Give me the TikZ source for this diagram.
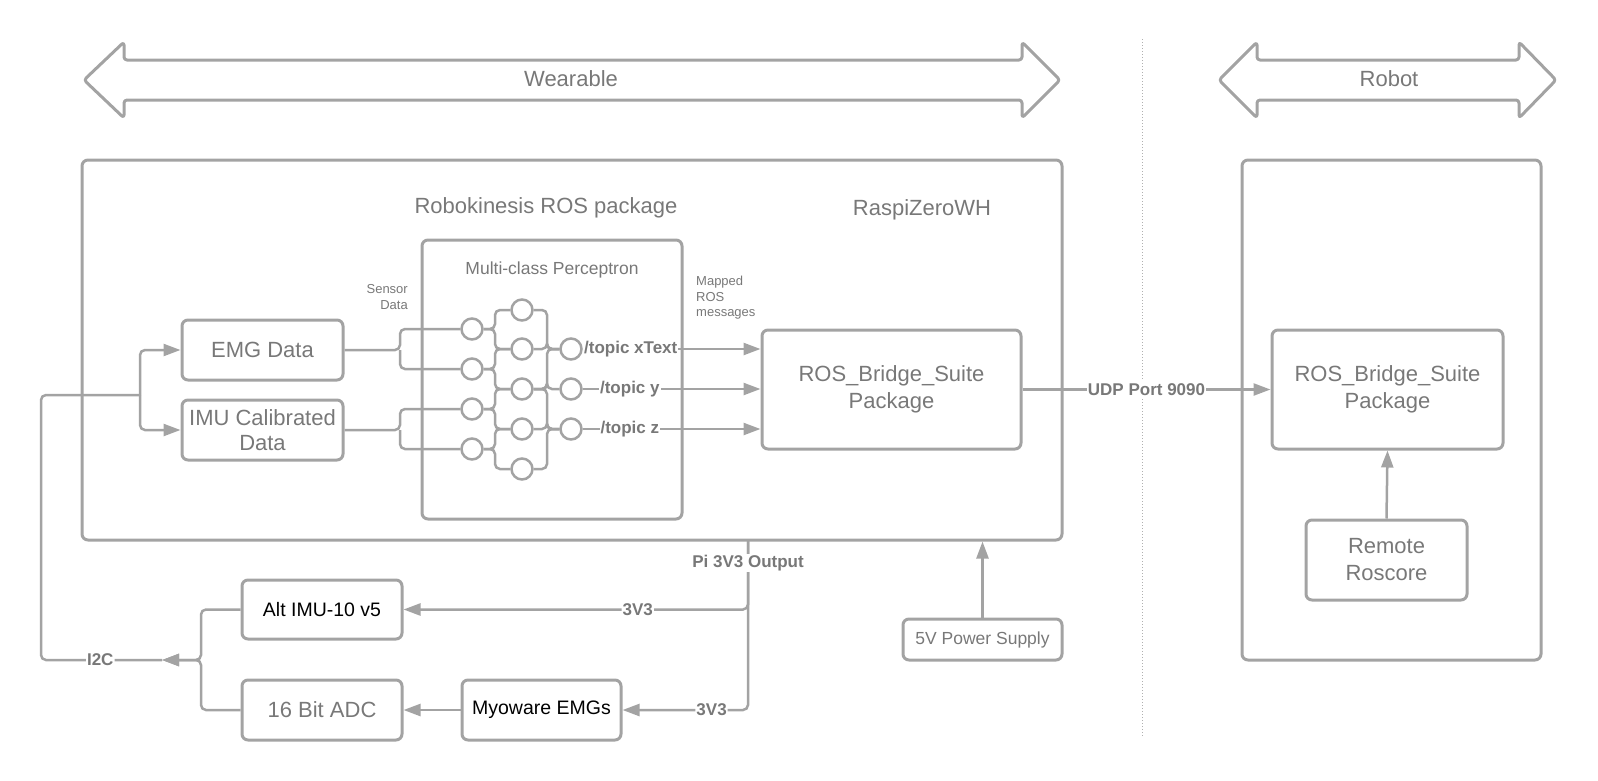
\documentclass[tikz,border=0pt]{standalone}
\usepackage{fontspec}
\setmainfont{Liberation Sans}
\usetikzlibrary{arrows.meta,calc}
\definecolor{ln}{HTML}{A3A3A3}
\definecolor{tx}{HTML}{787878}
\definecolor{dt}{HTML}{B0B0B0}
\begin{document}
\begin{tikzpicture}[x=1pt,y=-1pt,
  box/.style={draw=ln, line width=3pt, rounded corners=6pt, inner sep=2pt, text=tx,
    font=\fontsize{22}{27}\selectfont, align=center},
  conn/.style={draw=ln, line width=2.5pt},
  arr/.style={conn, -{Triangle[length=17pt,width=12pt]}},
  lbl/.style={fill=white, text=tx, font=\bfseries\fontsize{17}{20}\selectfont, inner sep=1pt},
  neuron/.style={circle, draw=ln, line width=2.5pt, minimum size=21pt, inner sep=0pt, fill=white},
  bigtxt/.style={text=tx, font=\fontsize{22}{26}\selectfont, inner sep=0pt},
  smalltxt/.style={text=tx, font=\fontsize{13}{16}\selectfont, inner sep=0pt},
  band/.style={draw=ln, line width=3pt, rounded corners=3pt, line join=round}
]
\useasboundingbox (0,0) rectangle (1598,780);

% top bands
\draw[band] (124,42) -- (84,80) -- (124,118) -- (124,100) -- (1022,100) -- (1022,118)
  -- (1060,80) -- (1022,42) -- (1022,60) -- (124,60) -- cycle;
\node[bigtxt] (wearlbl) at (571,79) {Wearable};
\draw[band] (1257,42) -- (1219,80) -- (1257,118) -- (1257,100) -- (1519,100) -- (1519,118)
  -- (1556,80) -- (1519,42) -- (1519,60) -- (1257,60) -- cycle;
\node[bigtxt] (robotlbl) at (1389,79) {Robot};

% dotted divider
\coordinate (dtop) at (1142,39);
\coordinate (dbot) at (1142,737);
\draw[dt, line width=1pt, dotted] (dtop) -- (dbot);

% outer boxes
\node[box, minimum width=980pt, minimum height=380pt] (wear) at (572,350) {};
\node[box, minimum width=299pt, minimum height=500pt] (robot) at (1391.5,410) {};
\node[bigtxt] (rospkg) at (546,208) {Robokinesis ROS package};
\node[bigtxt] (raspi) at (922,210) {RaspiZeroWH};

% perceptron
\node[box, minimum width=260pt, minimum height=279pt] (perc) at (552,379.5) {};
\node[text=tx, font=\fontsize{17.5}{20}\selectfont, inner sep=0pt] (perclbl) at (552,270) {Multi-class Perceptron};
\node[smalltxt, align=right, anchor=east] (sensor) at (408,297) {Sensor\\Data};
\node[smalltxt, align=left, anchor=west, font=\fontsize{13}{15.5}\selectfont] (mapped) at (696,298) {Mapped\\ROS\\messages};

% data boxes
\node[box, minimum width=161pt, minimum height=60pt] (emg) at (262.5,350) {EMG Data};
\node[box, minimum width=161pt, minimum height=60pt, font=\fontsize{22}{25.5}\selectfont] (imu) at (262.5,430) {IMU Calibrated\\Data};

% bridge boxes
\node[box, minimum width=259pt, minimum height=119pt] (rbl) at (891.5,389.5) {ROS\_Bridge\_Suite\\Package};
\node[box, minimum width=231pt, minimum height=119pt] (rbr) at (1387.5,389.5) {ROS\_Bridge\_Suite\\Package};
\node[box, minimum width=161pt, minimum height=80pt] (remote) at (1386.5,560) {Remote\\Roscore};
\node[box, minimum width=159pt, minimum height=41pt, font=\fontsize{17.5}{20}\selectfont] (psu) at (982.5,639.5) {5V Power Supply};

% bottom boxes
\node[box, minimum width=160pt, minimum height=59pt, text=black, font=\fontsize{19.5}{23}\selectfont] (alt) at (322,609.5) {Alt IMU-10 v5};
\node[box, minimum width=160pt, minimum height=60pt] (adc) at (322,710) {16 Bit ADC};
\node[box, minimum width=159pt, minimum height=60pt, text=black, font=\fontsize{19.5}{23}\selectfont] (myo) at (541.5,710) {Myoware EMGs};

% brace x positions
\coordinate (bx1) at (400,0);
\coordinate (bx2) at (495,0);
\coordinate (bx3) at (547,0);

% neurons
\node[neuron] (c11) at (472,329) {};
\node[neuron] (c12) at (472,369) {};
\node[neuron] (c13) at (472,409) {};
\node[neuron] (c14) at (472,449) {};
\node[neuron] (c21) at (522,310) {};
\node[neuron] (c22) at (522,349) {};
\node[neuron] (c23) at (522,389) {};
\node[neuron] (c24) at (522,429) {};
\node[neuron] (c25) at (522,469) {};
\node[neuron] (c31) at (571,349) {};
\node[neuron] (c32) at (571,389) {};
\node[neuron] (c33) at (571,429) {};

% sensor data to first layer
\draw[conn, rounded corners=5pt] (emg.east) -- (emg.east -| bx1) |- (c11.west);
\draw[conn, rounded corners=5pt] (emg.east -| bx1) |- (c12.west);
\draw[conn, rounded corners=5pt] (imu.east) -- (imu.east -| bx1) |- (c13.west);
\draw[conn, rounded corners=5pt] (imu.east -| bx1) |- (c14.west);

% layer 1 to layer 2
\foreach \a/\b in {c11/c21, c11/c22, c12/c22, c12/c23, c13/c23, c13/c24, c14/c24, c14/c25}{
  \draw[conn, rounded corners=5pt] (\a.east) -- (\a.east -| bx2) |- (\b.west);
}
% layer 2 to layer 3
\foreach \a/\b in {c21/c31, c22/c31, c23/c31, c23/c32, c23/c33, c24/c33, c25/c33}{
  \draw[conn, rounded corners=5pt] (\a.east) -- (\a.east -| bx3) |- (\b.west);
}

% topics
\draw[arr] (c31.east) -- node[lbl, pos=0.27] {/topic xText} (c31.east -| rbl.west);
\draw[arr] (c32.east) -- node[lbl, pos=0.265] {/topic y} (c32.east -| rbl.west);
\draw[arr] (c33.east) -- node[lbl, pos=0.265] {/topic z} (c33.east -| rbl.west);

% UDP
\draw[arr] (rbl.east) -- node[lbl, pos=0.5, inner ysep=3pt] {UDP Port 9090} (rbr.west);
\draw[arr] (remote.north) -- (rbr.south);
\draw[arr] (psu.north) -- (psu.north |- wear.south);

% power from Pi
\coordinate (piout) at (748,540);
\draw[arr, rounded corners=5pt] (piout) -- (piout |- alt.east) -- node[lbl, pos=0.32] {3V3} (alt.east);
\draw[arr, rounded corners=5pt] (piout) -- (piout |- myo.east) -- node[lbl, pos=0.29] {3V3} (myo.east);
\node[lbl] (pilbl) at (748,563) {Pi 3V3 Output};
\draw[arr] (myo.west) -- (adc.east);

% I2C
\coordinate (brx) at (201,660);
\coordinate (i2c) at (162,660);
\coordinate (lft) at (41,395);
\coordinate (bj) at (140,395);
\draw[arr, rounded corners=5pt] (alt.west) -| (brx) -- (i2c);
\draw[arr, rounded corners=5pt] (adc.west) -| (brx) -- (i2c);
\draw[conn, rounded corners=5pt] (i2c) -- node[lbl, pos=0.51] {I2C} (i2c -| lft) -- (lft) -- (bj);
\draw[arr, rounded corners=5pt] (bj) |- (emg.west);
\draw[arr, rounded corners=5pt] (bj) |- (imu.west);
\end{tikzpicture}
\end{document}
